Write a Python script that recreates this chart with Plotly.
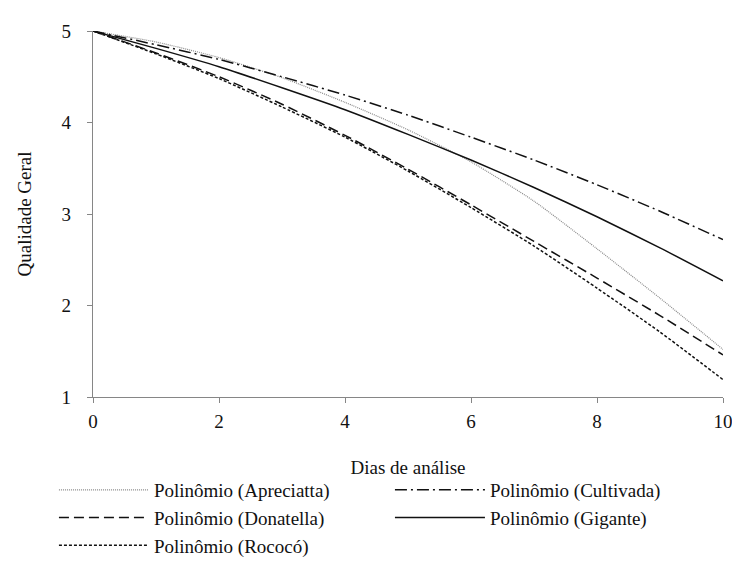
import plotly.graph_objects as go

dias = [0, 1, 2, 3, 4, 5, 6, 7, 8, 9, 10]
apreciatta = [5.00, 4.88, 4.71, 4.49, 4.22, 3.92, 3.57, 3.14, 2.62, 2.08, 1.52]
cultivada = [5.00, 4.85, 4.69, 4.50, 4.30, 4.08, 3.84, 3.59, 3.32, 3.03, 2.72]
donatella = [5.00, 4.76, 4.50, 4.20, 3.86, 3.49, 3.10, 2.70, 2.30, 1.89, 1.46]
gigante = [5.00, 4.81, 4.61, 4.38, 4.14, 3.87, 3.59, 3.29, 2.97, 2.63, 2.27]
rococo = [5.00, 4.75, 4.48, 4.17, 3.84, 3.47, 3.07, 2.65, 2.19, 1.71, 1.19]

series = [
    ("Polinômio (Apreciatta)", apreciatta, dict(color="#8a8a8a", width=1.2, dash="1px,1px")),
    ("Polinômio (Cultivada)", cultivada, dict(color="#111", width=1.5, dash="12px,4px,2px,4px")),
    ("Polinômio (Donatella)", donatella, dict(color="#111", width=1.5, dash="10px,5px")),
    ("Polinômio (Gigante)", gigante, dict(color="#111", width=1.5)),
    ("Polinômio (Rococó)", rococo, dict(color="#111", width=1.5, dash="3px,2px")),
]

fig = go.Figure()
for name, ys, line in series:
    fig.add_trace(go.Scatter(x=dias, y=ys, mode="lines", name=name,
                             line=dict(shape="spline", smoothing=0.6, **line)))

font = "Liberation Serif"
axis_common = dict(showline=True, linecolor="#868686", linewidth=1.2,
                   ticks="outside", ticklen=5, tickcolor="#868686",
                   showgrid=False, zeroline=False,
                   tickfont=dict(family=font, size=19, color="#111"))

# page body has an 8px default margin, so the figure is 8px smaller and shifted
fig.update_layout(
    width=732, height=560,
    margin=dict(l=85, r=17, t=23, b=171, autoexpand=False),
    paper_bgcolor="white", plot_bgcolor="white",
    font=dict(family=font, size=19, color="#111"),
    xaxis=dict(range=[0, 10], dtick=2, tick0=0, ticklabelstandoff=2,
               title=dict(text="Dias de análise", font=dict(family=font, size=19), standoff=29),
               **axis_common),
    yaxis=dict(range=[1, 5], dtick=1, tick0=1, ticklabelstandoff=12,
               title=dict(text="Qualidade Geral", font=dict(family=font, size=19), standoff=24),
               **axis_common),
    legend=dict(orientation="h", x=-0.062, xanchor="left", y=-0.459, yanchor="bottom",
                entrywidth=231, entrywidthmode="pixels",
                font=dict(family=font, size=19, color="#111"),
                tracegroupgap=0, itemwidth=90, bgcolor="rgba(0,0,0,0)"),
    showlegend=True,
)

fig.write_html("out.html")
